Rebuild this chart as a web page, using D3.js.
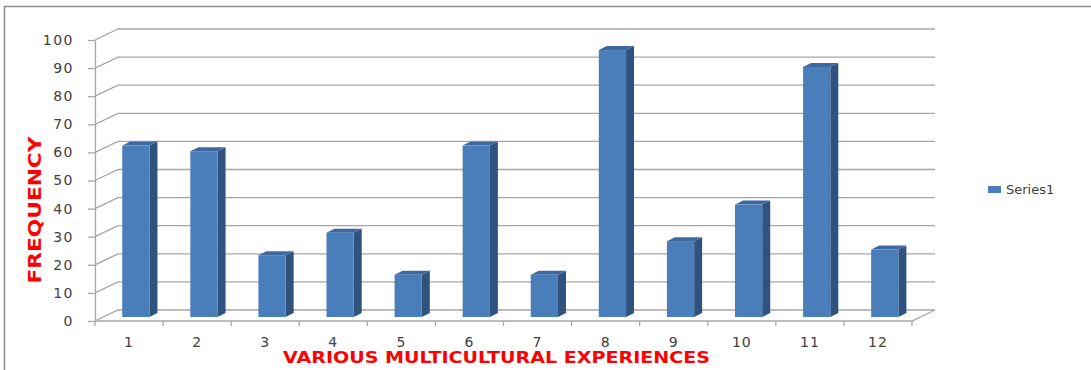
<!DOCTYPE html>
<html>
<head>
<meta charset="utf-8">
<script src="https://cdn.jsdelivr.net/npm/d3@7"></script>
<style>
  body { margin: 0; background: #fff; }
  svg { display: block; }
</style>
</head>
<body>
<div id="chart"></div>
<script>
// frequency of each multicultural experience
const categories = ["1","2","3","4","5","6","7","8","9","10","11","12"];
const values = [61, 59, 22, 30, 15, 61, 15, 95, 27, 40, 89, 24];
const yTicks = [0, 10, 20, 30, 40, 50, 60, 70, 80, 90, 100];
const seriesName = "Series1";

const width = 1091, height = 370;
const DX = 23, DY = -11;        // depth of the 3d wall
const BDX = 8, BDY = -4;        // depth of a bar

const svg = d3.select("#chart").append("svg")
  .attr("width", width).attr("height", height);

// outer frame
svg.append("rect").attr("x", 4.5).attr("y", 6.5).attr("width", 1100).attr("height", 400)
  .attr("fill", "none").attr("stroke", "#8a8a8a").attr("stroke-width", 1.5);

const x = d3.scaleBand().domain(categories).range([95, 912]);
const y = d3.scaleLinear().domain([0, 100]).range([321, 40]);
const bw = x.bandwidth();

// back wall gridlines + diagonals
const grid = svg.append("g").attr("stroke", "#a6a6a6").attr("stroke-width", 1.3).attr("fill", "none");
yTicks.forEach(t => {
  grid.append("path")
    .attr("d", `M${x.range()[0]},${y(t)}L${x.range()[0] + DX},${y(t) + DY}L${x.range()[1] + DX},${y(t) + DY}`);
});
// floor front edge and right diagonal
grid.append("path")
  .attr("d", `M${x.range()[0]},${y(0)}L${x.range()[1]},${y(0)}L${x.range()[1] + DX},${y(0) + DY}`);

// y axis
const yAxis = svg.append("g").attr("transform", `translate(${x.range()[0]},0)`)
  .call(d3.axisLeft(y).tickValues(yTicks).tickSize(7).tickSizeOuter(0).tickPadding(14));
yAxis.select(".domain").attr("stroke", "#a6a6a6").attr("stroke-width", 1.3);
yAxis.selectAll(".tick line").attr("stroke", "#a6a6a6").attr("stroke-width", 1.3);
yAxis.selectAll(".tick text")
  .attr("fill", "#404040").style("font-family", "DejaVu Sans").style("font-size", "14px")
  .style("letter-spacing", "1.5px");

// x axis labels
const xAxis = svg.append("g").attr("transform", `translate(0,${y(0)})`)
  .call(d3.axisBottom(x).tickSize(0).tickPadding(16));
xAxis.select(".domain").remove();
xAxis.selectAll(".tick text")
  .attr("fill", "#404040").style("font-family", "DejaVu Sans").style("font-size", "14px")
  .style("letter-spacing", "1px");
// tick marks on category boundaries
svg.append("g").selectAll("line")
  .data(categories.concat(["end"])).join("line")
  .attr("x1", (d, i) => x.range()[0] + i * bw).attr("x2", (d, i) => x.range()[0] + i * bw)
  .attr("y1", y(0)).attr("y2", y(0) + 5)
  .attr("stroke", "#a6a6a6").attr("stroke-width", 1.3);

// bars
const bars = svg.append("g").selectAll("g").data(values).join("g");
const bx1 = (d, i) => x(categories[i]) + bw * 0.4;
const bx2 = (d, i) => bx1(d, i) + bw * 0.4;
const base = y(0) + BDY;
const barTop = d => y(d) + BDY;

bars.append("path") // side
  .attr("fill", "#2f527f")
  .attr("d", (d, i) => `M${bx2(d, i)},${barTop(d)}L${bx2(d, i) + BDX},${barTop(d) + BDY}L${bx2(d, i) + BDX},${base + BDY}L${bx2(d, i)},${base}Z`);
bars.append("path") // cap
  .attr("fill", "#3d68a0")
  .attr("d", (d, i) => `M${bx1(d, i)},${barTop(d)}L${bx1(d, i) + BDX},${barTop(d) + BDY}L${bx2(d, i) + BDX},${barTop(d) + BDY}L${bx2(d, i)},${barTop(d)}Z`);
bars.append("rect") // face
  .attr("fill", "#4a7ebb")
  .attr("x", bx1).attr("width", bw * 0.4)
  .attr("y", barTop).attr("height", d => base - barTop(d));

// axis titles
svg.append("text")
  .attr("transform", "translate(41,210) rotate(-90)")
  .attr("text-anchor", "middle")
  .attr("fill", "#ff0000").style("font-family", "DejaVu Sans").style("font-weight", "bold")
  .style("font-size", "18px")
  .attr("textLength", 147).attr("lengthAdjust", "spacingAndGlyphs")
  .text("FREQUENCY");

svg.append("text")
  .attr("x", 283).attr("y", 363)
  .attr("fill", "#ff0000").style("font-family", "DejaVu Sans").style("font-weight", "bold")
  .style("font-size", "15px")
  .attr("textLength", 427).attr("lengthAdjust", "spacingAndGlyphs")
  .text("VARIOUS MULTICULTURAL EXPERIENCES");

// legend
const legend = svg.append("g").attr("transform", "translate(988,186)");
legend.append("rect").attr("width", 13).attr("height", 7).attr("fill", "#4a7ebb");
legend.append("text").attr("x", 18).attr("y", 8)
  .attr("fill", "#404040").style("font-family", "DejaVu Sans").style("font-size", "13px")
  .text(seriesName);
</script>
</body>
</html>
